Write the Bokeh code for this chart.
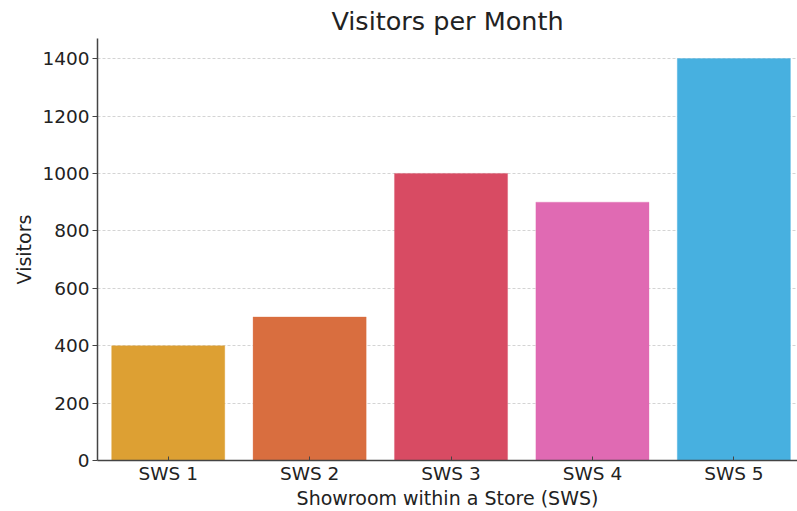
from bokeh.plotting import figure
from bokeh.models import Range1d, FixedTicker, ColumnDataSource
from bokeh.embed import file_html
from bokeh.resources import INLINE

categories = ["SWS 1", "SWS 2", "SWS 3", "SWS 4", "SWS 5"]
visitors = [400, 500, 1000, 900, 1400]
colors = ["#DDA033", "#D96E3F", "#D84B63", "#E06AB3", "#47B0E0"]
y_ticks = [0, 200, 400, 600, 800, 1000, 1200, 1400]

positions = list(range(len(categories)))
src = ColumnDataSource(dict(x=positions, top=visitors, color=colors))

FONT = "DejaVu Sans"

p = figure(width=797, height=511, output_backend="svg", toolbar_location=None,
           x_range=Range1d(-0.5, 4.45), y_range=Range1d(0, 1470),
           title="Visitors per Month", min_border_left=97, min_border_right=0,
           min_border_top=37, min_border_bottom=50)

p.vbar(x="x", top="top", bottom=0, width=0.8, color="color", line_alpha=0.3, source=src)

p.title.text_font = FONT
p.title.text_font_size = "25.5px"
p.title.text_font_style = "normal"
p.title.text_color = "#222222"
p.title.align = "center"
p.title.offset = 3
p.title.standoff = 6

p.outline_line_color = None
p.background_fill_color = "white"
p.border_fill_color = "white"

p.xgrid.grid_line_color = None
p.ygrid.grid_line_color = "#d4d4d4"
p.ygrid.grid_line_dash = "3 2"
p.ygrid.grid_line_width = 1

p.xaxis.ticker = FixedTicker(ticks=positions)
p.xaxis.major_label_overrides = {i: c for i, c in zip(positions, categories)}
p.yaxis.ticker = FixedTicker(ticks=y_ticks)

for ax in (p.xaxis[0], p.yaxis[0]):
    ax.axis_line_color = "#444444"
    ax.axis_line_width = 1.5
    ax.major_tick_line_color = "#444444"
    ax.minor_tick_line_color = None
    ax.major_label_text_font = FONT
    ax.major_label_text_font_size = "18.5px"
    ax.major_label_text_color = "#222222"
    ax.axis_label_text_font = FONT
    ax.axis_label_text_font_size = "19px"
    ax.axis_label_text_font_style = "normal"
    ax.axis_label_text_color = "#222222"

p.xaxis.axis_label = "Showroom within a Store (SWS)"
p.yaxis.axis_label = "Visitors"
p.xaxis.major_tick_out = 0
p.xaxis.major_tick_in = 4
p.xaxis.major_label_standoff = 2
p.xaxis.axis_label_standoff = 0
p.yaxis.major_tick_out = 5
p.yaxis.major_tick_in = 0
p.yaxis.major_label_standoff = 3
p.yaxis.axis_label_standoff = 4

open("out.html", "w").write(file_html(p, INLINE))
